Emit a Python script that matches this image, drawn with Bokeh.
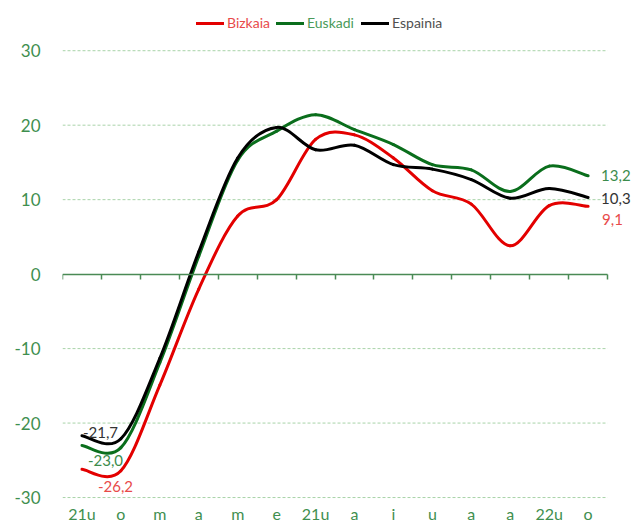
from bokeh.plotting import figure
from bokeh.models import (LinearAxis, FixedTicker, Range1d, Legend, LegendItem,
                          Label, ColumnDataSource)
from bokeh.embed import file_html
from bokeh.resources import INLINE

# ---- data ----
months = ["21u", "o", "m", "a", "m", "e", "21u", "a", "i", "u", "a", "a", "22u", "o"]
bizkaia = [-26.2, -26.4, -14.9, -2.0, 7.8, 10.0, 18.1, 18.7, 15.6, 11.2, 9.4, 3.8, 9.2, 9.1]
euskadi = [-23.0, -23.3, -11.9, 2.4, 15.3, 19.2, 21.4, 19.4, 17.4, 14.7, 14.0, 11.1, 14.5, 13.2]
espainia = [-21.7, -22.1, -11.3, 3.0, 15.6, 19.7, 16.7, 17.3, 14.7, 14.1, 12.7, 10.2, 11.5, 10.3]
series_names = ["Bizkaia", "Euskadi", "Espainia"]
y_ticks = [-30, -20, -10, 0, 10, 20, 30]
grid_ticks = [-30, -20, -10, 10, 20, 30]

FONT = "Lato"
TICK_GREEN = "#3f8f4f"
N = len(months)
Y_MIN, Y_MAX = -30, 30

# frame covers the room for labels/legend; grid and axes stay within the chart area
p = figure(width=632, height=524, output_backend="svg", toolbar_location=None,
           x_range=Range1d(-0.5, N - 0.5 + 0.64), y_range=Range1d(Y_MIN - 3.62, Y_MAX + 5.4),
           x_axis_location=None, min_border_left=62, min_border_right=0,
           min_border_top=10, min_border_bottom=0)
p.outline_line_color = None
p.background_fill_color = "white"
p.border_fill_color = "white"

# y axis
ya = p.yaxis[0]
ya.ticker = FixedTicker(ticks=y_ticks)
ya.major_label_overrides = {t: str(t) for t in y_ticks}
ya.axis_line_color = None
ya.major_tick_line_color = None
ya.minor_tick_line_color = None
ya.major_label_standoff = 16
ya.major_label_text_font = FONT
ya.major_label_text_font_size = "17px"
ya.major_label_text_color = TICK_GREEN

# grid lines limited to the category bands
p.xgrid.visible = False
p.ygrid.visible = False
p.segment(x0=[-0.5] * len(grid_ticks), x1=[N - 0.5] * len(grid_ticks),
          y0=grid_ticks, y1=grid_ticks, line_color="#a9d3a9",
          line_dash="3 2", line_width=1)

# zero axis line with band ticks
zero_axis = LinearAxis(fixed_location=0, bounds=(-0.5, N - 0.5),
                       ticker=FixedTicker(ticks=[i - 0.5 for i in range(N + 1)]),
                       axis_line_color="#4a8a55", axis_line_width=1.5,
                       major_tick_line_color="#4a8a55", major_tick_line_width=1.5,
                       major_tick_out=5, major_tick_in=0,
                       minor_tick_line_color=None,
                       major_label_text_font_size="0px",
                       major_label_overrides={i - 0.5: "" for i in range(N + 1)})
p.add_layout(zero_axis, "below")

# category labels under the -30 line
label_axis = LinearAxis(fixed_location=Y_MIN,
                        ticker=FixedTicker(ticks=list(range(N))),
                        major_label_overrides={i: m for i, m in enumerate(months)},
                        axis_line_color=None, major_tick_line_color=None,
                        minor_tick_line_color=None, major_tick_out=0, major_tick_in=0,
                        major_label_standoff=6,
                        major_label_text_font=FONT, major_label_text_font_size="16px",
                        major_label_text_color=TICK_GREEN)
p.add_layout(label_axis, "below")


def bezier_source(vals):
    n = len(vals)
    d = dict(x0=[], y0=[], x1=[], y1=[], cx0=[], cy0=[], cx1=[], cy1=[])
    for i in range(n - 1):
        xp, yp = (i - 1, vals[i - 1]) if i > 0 else (i, vals[i])
        xn, yn = (i + 2, vals[i + 2]) if i + 2 < n else (i + 1, vals[i + 1])
        d["x0"].append(i); d["y0"].append(vals[i])
        d["x1"].append(i + 1); d["y1"].append(vals[i + 1])
        d["cx0"].append(i + (i + 1 - xp) / 6); d["cy0"].append(vals[i] + (vals[i + 1] - yp) / 6)
        d["cx1"].append(i + 1 - (xn - i) / 6); d["cy1"].append(vals[i + 1] - (yn - vals[i]) / 6)
    return ColumnDataSource(d)


line_colors = ["#e30000", "#0a6e1c", "#000000"]
legend_text_colors = ["#e84a4a", "#4a9a5a", "#505050"]
label_colors = ["#e84a4a", "#3c8c4c", "#333333"]
all_series = [bizkaia, euskadi, espainia]
renderers = []
for vals, col in zip(all_series, line_colors):
    r = p.bezier(x0="x0", y0="y0", x1="x1", y1="y1", cx0="cx0", cy0="cy0",
                 cx1="cx1", cy1="cy1", source=bezier_source(vals),
                 line_color=col, line_width=3, line_cap="round")
    renderers.append(r)

# legends (one per series so text colours can differ)
legend_x = [134, 214, 299]
for name, r, tc, lx in zip(series_names, renderers, legend_text_colors, legend_x):
    lg = Legend(items=[LegendItem(label=name, renderers=[r])], location=(lx, 493),
                orientation="horizontal", padding=0, margin=0, spacing=0,
                glyph_width=28, glyph_height=16, label_height=16, label_standoff=3,
                label_text_font=FONT, label_text_font_size="14px",
                label_text_color=tc, border_line_color=None,
                background_fill_alpha=0)
    p.add_layout(lg, "center")


def fmt(v):
    return f"{v:.1f}".replace(".", ",")


# end labels
end_offsets = [(14, -13), (13, 0), (13, -1.5)]
for idx, (vals, col) in enumerate(zip(all_series, label_colors)):
    xo, yo = end_offsets[idx]
    p.add_layout(Label(x=len(vals) - 1, y=vals[-1], text=fmt(vals[-1]),
                       x_offset=xo, y_offset=yo, text_align="left",
                       text_baseline="middle", text_font=FONT,
                       text_font_size="15px", text_color=col))

# start labels
start_offsets = [(16, -17), (6, -15), (1, 3)]
for idx, (vals, col) in enumerate(zip(all_series, label_colors)):
    xo, yo = start_offsets[idx]
    p.add_layout(Label(x=0, y=vals[0], text=fmt(vals[0]),
                       x_offset=xo, y_offset=yo, text_align="left",
                       text_baseline="middle", text_font=FONT,
                       text_font_size="15px", text_color=col))

open("out.html", "w").write(file_html(p, INLINE))
